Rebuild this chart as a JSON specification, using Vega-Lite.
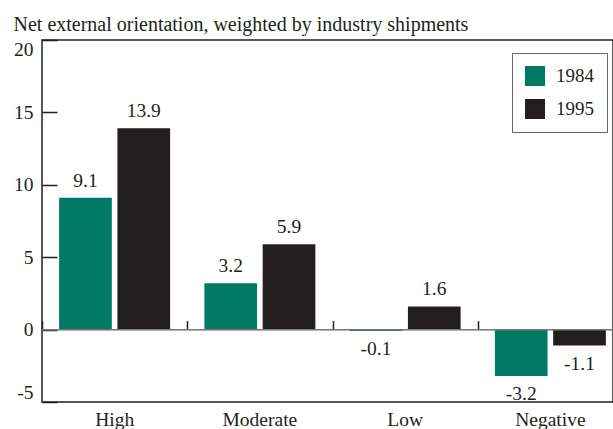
{
  "$schema": "https://vega.github.io/schema/vega-lite/v6.json",
  "autosize": {"type": "none"},
  "padding": {"left": 42, "top": 40, "right": 0, "bottom": 27},
  "width": 571,
  "height": 362,
  "title": {
    "text": "Net external orientation, weighted by industry shipments",
    "anchor": "start",
    "frame": "bounds",
    "font": "Liberation Serif",
    "fontSize": 20,
    "fontWeight": "normal",
    "color": "#231F20",
    "offset": 4
  },
  "config": {
    "view": {"stroke": "#231F20", "strokeWidth": 1.5},
    "font": "Liberation Serif"
  },
  "data": {
    "values": [
      {"category": "High", "year": "1984", "value": 9.1},
      {"category": "High", "year": "1995", "value": 13.9},
      {"category": "Moderate", "year": "1984", "value": 3.2},
      {"category": "Moderate", "year": "1995", "value": 5.9},
      {"category": "Low", "year": "1984", "value": -0.1},
      {"category": "Low", "year": "1995", "value": 1.6},
      {"category": "Negative", "year": "1984", "value": -3.2},
      {"category": "Negative", "year": "1995", "value": -1.1}
    ]
  },
  "encoding": {
    "xOffset": {"field": "year", "type": "nominal", "scale": {"paddingInner": 0.096, "paddingOuter": 0.294}},
    "y": {
      "field": "value",
      "type": "quantitative",
      "scale": {"domain": [-5, 20], "nice": false, "zero": false},
      "axis": {
        "values": [-5, 0, 5, 10, 15, 20],
        "labelExpr": "replace(datum.label, '\u2212', '-')",
        "labelFlush": true,
        "title": null,
        "grid": false,
        "domain": false,
        "tickSize": -15,
        "tickWidth": 1.5,
        "tickColor": "#231F20",
        "labelPadding": 24,
        "labelFontSize": 19.5,
        "labelColor": "#231F20",
        "labelFont": "Liberation Serif"
      }
    }
  },
  "layer": [
    {
      "mark": {"type": "bar"},
      "encoding": {
        "x": {
          "field": "category",
          "type": "nominal",
          "sort": ["High", "Moderate", "Low", "Negative"],
          "scale": {"range": [0, 581], "paddingInner": 0, "paddingOuter": 0},
          "axis": {
            "orient": "bottom",
            "title": null,
            "ticks": false,
            "domain": false,
            "labelAngle": 0,
            "labelPadding": 8,
            "labelFontSize": 19.5,
            "labelColor": "#231F20",
            "labelFont": "Liberation Serif"
          }
        },
        "color": {
          "field": "year",
          "type": "nominal",
          "scale": {"domain": ["1984", "1995"], "range": ["#007A64", "#231F20"]},
          "legend": {
            "title": null,
            "orient": "none",
            "legendX": 470,
            "legendY": 13,
            "symbolType": "square",
            "symbolSize": 400,
            "symbolStrokeWidth": 0,
            "strokeColor": "#666666",
            "padding": 13,
            "labelFontSize": 19,
            "labelFont": "Liberation Serif",
            "labelColor": "#231F20",
            "labelOffset": 11,
            "rowPadding": 13
          }
        }
      }
    },
    {
      "transform": [{"filter": "datum.value > 0"}],
      "mark": {"type": "text", "baseline": "alphabetic", "dy": -11, "fontSize": 19.5, "font": "Liberation Serif", "color": "#231F20"},
      "encoding": {
        "x": {
          "field": "category",
          "type": "nominal",
          "sort": ["High", "Moderate", "Low", "Negative"],
          "axis": {
            "orient": "top",
            "offset": -289.6,
            "title": null,
            "labels": false,
            "domain": false,
            "ticks": true,
            "tickBand": "extent",
            "tickSize": 9,
            "tickWidth": 1.5,
            "tickColor": "#231F20"
          }
        },
        "text": {"field": "value", "type": "nominal"}
      }
    },
    {
      "transform": [{"filter": "datum.value < 0"}],
      "mark": {"type": "text", "baseline": "alphabetic", "dy": 24, "fontSize": 19.5, "font": "Liberation Serif", "color": "#231F20"},
      "encoding": {
        "x": {
          "field": "category",
          "type": "nominal",
          "sort": ["High", "Moderate", "Low", "Negative"],
          "axis": null
        },
        "text": {"field": "value", "type": "nominal"}
      }
    },
    {
      "mark": {"type": "rule", "color": "#7a7a7a", "strokeWidth": 1},
      "encoding": {"y": {"datum": 0}}
    }
  ],
  "resolve": {"axis": {"x": "independent"}}
}
